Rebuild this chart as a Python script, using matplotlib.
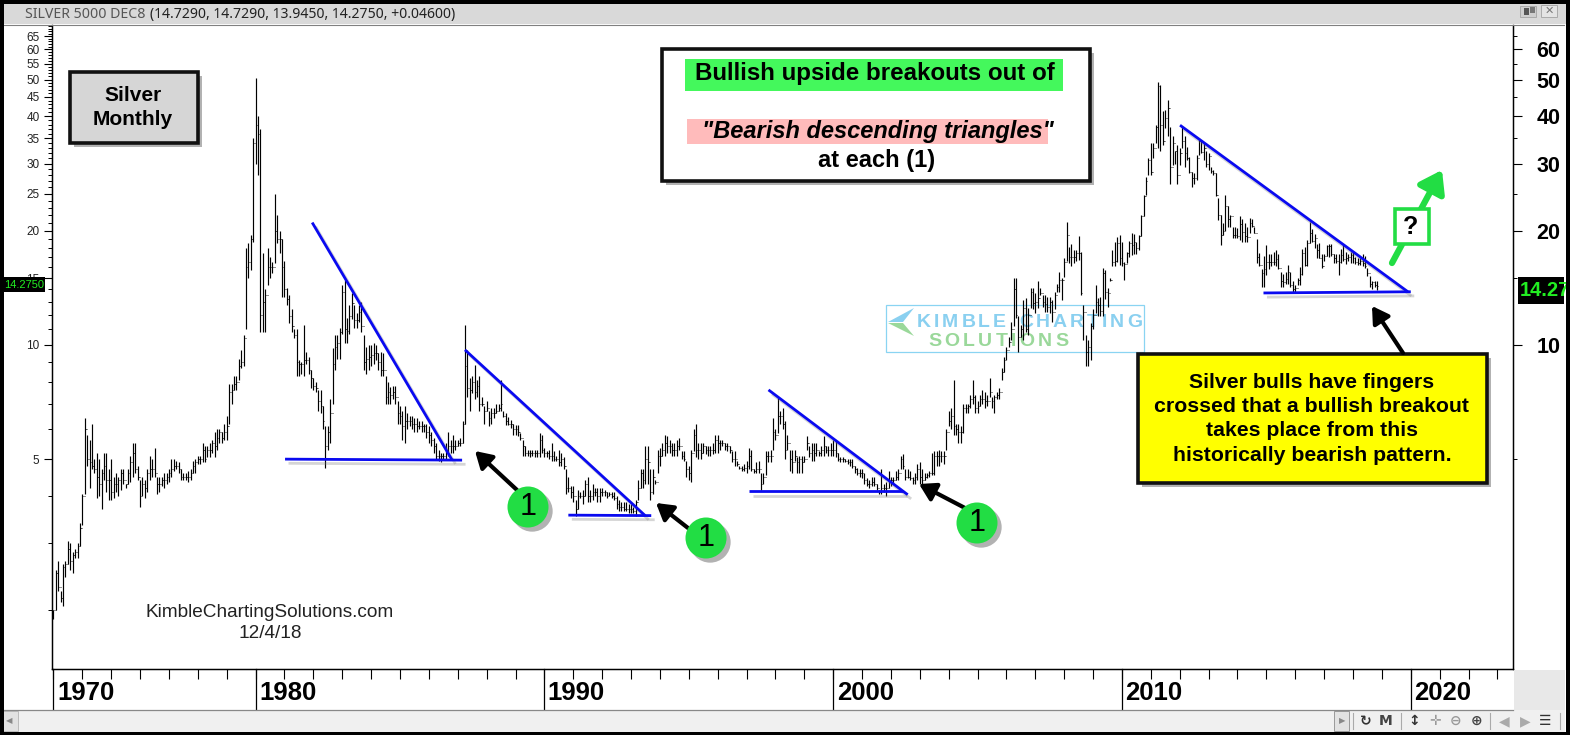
import numpy as np
import matplotlib
matplotlib.use("Agg")
import matplotlib.pyplot as plt
import matplotlib.patches as mp
import matplotlib.patheffects as pe
from matplotlib.transforms import blended_transform_factory

plt.rcParams['font.family'] = ['Liberation Sans', 'DejaVu Sans']

# monthly bars, Jan 1973 to Nov 2018, one row per year
high = [
 2.0,2.55,2.7,2.25,2.65,2.7,3.05,3.0,2.85,2.9,3.0,3.4,
 4.05,6.4,5.8,5.6,6.2,5.0,5.2,5.0,4.7,5.2,5.2,4.7,
 5.0,4.5,4.6,4.5,4.7,4.7,4.3,4.7,5.1,5.5,5.5,4.8,
 4.4,4.5,4.4,4.7,5.1,5.0,5.35,4.5,4.5,4.5,4.6,4.6,
 4.7,5.0,5.0,4.95,4.9,4.7,4.6,4.6,4.65,4.7,4.95,5.0,
 5.1,5.1,5.5,5.4,5.4,5.5,5.6,5.9,6.0,6.0,5.9,6.2,
 6.5,7.9,7.9,8.3,8.3,9.2,9.7,10.6,18.0,18.5,19.5,35.0,
 50.5,40.0,37.0,17.5,14.0,18.0,17.0,16.5,25.0,22.0,20.0,19.0,
 16.6,14.1,13.5,12.4,11.0,11.0,9.1,9.0,11.3,9.6,9.3,8.6,
 8.2,8.0,7.6,7.6,6.9,6.1,6.1,7.2,9.8,10.6,10.6,11.1,
 14.4,14.8,11.8,12.7,13.7,12.7,12.1,12.7,13.0,10.6,9.9,10.0,
 10.0,10.1,10.0,9.5,9.6,9.5,8.3,8.0,7.75,7.8,7.8,7.1,
 6.9,6.7,6.9,6.6,6.5,6.5,6.4,6.4,6.3,6.3,6.2,6.2,
 6.1,5.9,5.7,5.5,5.3,5.2,5.2,5.5,5.9,5.6,5.8,5.6,
 5.6,5.7,6.3,11.3,9.7,8.2,8.3,8.85,8.1,8.3,7.3,6.9,
 7.1,6.7,6.8,6.8,7.0,7.0,8.1,6.7,6.6,6.45,6.35,6.2,
 6.15,6.15,5.85,5.6,5.4,5.3,5.3,5.3,5.3,5.3,5.85,5.8,
 5.35,5.25,5.3,5.5,5.25,5.1,5.3,5.2,5.05,4.7,4.5,4.25,
 4.25,3.9,4.15,4.1,4.15,4.4,4.5,4.15,4.3,4.2,4.2,4.2,
 4.2,4.15,4.1,4.1,4.1,4.1,4.0,3.9,3.85,3.85,3.85,3.8,
 3.8,3.75,3.9,4.4,4.7,4.7,5.4,5.4,4.7,4.7,4.4,5.3,
 5.35,5.5,5.8,5.75,5.6,5.5,5.5,5.6,5.7,5.25,5.25,4.95,
 4.8,5.3,6.0,6.2,5.5,5.5,5.5,5.4,5.4,5.4,5.5,5.8,
 5.8,5.6,5.6,5.5,5.5,5.4,5.25,5.25,4.95,4.8,4.8,4.85,
 4.95,5.35,5.3,4.7,4.9,4.95,4.6,4.6,5.25,5.25,5.3,6.4,
 6.0,7.3,6.7,6.8,6.3,5.8,5.3,5.3,5.3,5.05,5.1,5.1,
 5.1,5.75,5.4,5.5,5.5,5.5,5.25,5.4,5.75,5.4,5.4,5.5,
 5.6,5.6,5.2,5.05,5.05,5.0,5.0,5.0,5.0,4.8,4.75,4.7,
 4.7,4.6,4.45,4.4,4.5,4.5,4.3,4.15,4.7,4.3,4.35,4.65,
 4.5,4.5,4.65,4.7,5.1,5.15,4.7,4.7,4.65,4.5,4.6,4.85,
 4.9,4.7,4.6,4.6,4.65,5.2,5.25,5.25,5.3,5.25,5.25,6.0,
 6.7,6.8,8.1,6.2,6.2,6.1,7.0,7.0,7.0,7.4,8.1,7.4,
 7.1,7.4,7.6,7.5,7.4,8.2,7.3,7.4,7.5,7.7,8.7,9.3,
 9.9,10.5,11.5,15.0,15.0,11.9,11.3,13.1,13.3,12.5,14.1,14.1,
 13.7,14.7,14.1,13.5,13.5,13.4,13.4,13.1,13.8,14.5,15.6,15.0,
 16.9,21.1,18.1,18.4,17.8,17.8,19.3,17.6,12.7,10.6,10.3,11.4,
 12.4,14.4,13.3,13.4,15.9,15.7,14.1,15.0,17.8,18.7,19.2,19.5,
 18.7,16.5,17.6,18.8,19.7,19.6,18.7,19.5,22.0,24.8,27.7,31.0,
 34.0,34.0,37.9,49.4,48.4,41.2,41.6,44.2,37.6,35.4,32.5,33.6,
 33.0,37.6,35.6,33.3,31.3,28.6,28.3,31.6,35.0,34.7,34.0,32.5,
 32.0,29.5,28.8,28.3,24.3,22.0,20.9,24.8,23.2,22.0,20.5,20.5,
 20.3,21.8,21.5,20.9,20.5,21.6,21.5,20.5,19.0,17.5,15.8,17.1,
 18.3,17.4,17.4,17.6,17.8,17.3,15.6,15.4,15.6,16.2,15.6,14.7,
 14.4,15.0,16.0,17.9,18.1,18.9,21.1,20.2,19.6,18.4,18.6,17.4,
 17.3,18.3,18.4,18.4,17.4,17.4,17.4,17.9,18.3,17.6,17.4,17.6,
 17.6,17.0,16.9,16.9,17.3,17.1,15.9,15.2,14.7,14.7,14.73,
]
low = [
 1.9,2.0,2.25,2.1,2.05,2.45,2.65,2.55,2.5,2.75,2.75,2.95,
 3.35,4.05,4.8,4.2,4.7,4.6,3.95,4.0,3.7,4.4,4.1,3.9,
 3.9,3.95,4.1,4.0,4.15,4.3,4.2,4.3,4.35,4.5,4.6,4.4,
 3.75,4.0,3.95,4.1,4.4,4.5,4.5,4.05,4.1,4.25,4.2,4.3,
 4.35,4.5,4.65,4.7,4.6,4.4,4.4,4.4,4.35,4.4,4.6,4.6,
 4.85,4.85,4.9,4.9,5.05,5.05,5.2,5.05,5.3,5.5,5.5,5.6,
 5.6,6.2,7.0,7.6,7.6,8.1,8.7,8.8,11.0,15.0,15.7,18.7,
 30.0,28.0,10.8,10.8,10.8,14.4,15.0,15.5,16.4,18.5,17.5,13.4,
 13.4,12.7,11.4,10.8,10.4,8.3,8.3,8.4,8.3,8.9,8.4,7.7,
 7.6,7.5,6.7,6.6,6.0,4.75,5.3,5.5,7.0,8.6,9.2,9.2,
 10.7,10.1,10.1,10.7,11.7,11.1,11.1,11.5,10.8,8.6,8.4,8.6,
 8.8,8.9,9.1,8.6,8.3,8.3,7.0,7.0,7.0,7.2,7.0,6.2,
 6.2,5.6,5.5,6.0,6.1,6.0,5.9,5.9,6.0,5.9,5.9,5.7,
 5.5,5.4,5.2,5.0,4.95,4.9,5.0,5.0,5.1,5.2,5.2,5.3,
 5.4,5.4,5.5,6.2,7.3,6.7,7.45,7.2,7.3,6.7,6.9,6.2,
 6.7,6.1,6.2,6.4,6.6,6.7,6.7,6.45,6.15,6.15,6.05,5.8,
 5.8,5.75,5.6,5.1,5.1,5.1,5.05,5.1,5.05,5.05,5.05,5.2,
 5.05,5.05,5.0,4.95,4.95,4.95,4.8,4.8,4.7,4.05,4.1,3.95,
 3.85,3.55,3.7,3.95,3.8,4.0,3.85,3.85,3.9,4.0,3.85,3.85,
 4.0,4.0,3.95,4.0,3.95,3.9,3.7,3.65,3.65,3.65,3.65,3.6,
 3.6,3.6,3.55,3.9,4.2,4.2,4.3,4.3,3.9,4.05,4.3,4.6,
 4.8,5.1,5.1,5.2,5.2,5.1,5.1,5.1,5.3,5.0,4.95,4.5,
 4.4,4.35,5.25,5.05,5.0,5.0,5.2,5.15,5.1,5.1,5.15,5.2,
 5.2,5.3,5.4,5.3,5.25,5.2,4.9,4.8,4.8,4.7,4.65,4.65,
 4.6,4.7,4.65,4.6,4.6,4.6,4.15,4.3,4.55,4.9,4.9,5.3,
 5.6,5.85,6.2,6.0,5.0,5.3,4.65,4.6,4.95,4.6,4.6,4.6,
 4.9,5.3,5.05,4.95,4.95,5.1,5.1,5.1,5.1,5.2,5.1,5.1,
 5.1,5.05,4.95,4.9,4.9,4.9,4.85,4.8,4.75,4.6,4.55,4.5,
 4.45,4.3,4.25,4.2,4.25,4.25,4.15,4.05,4.05,4.1,4.0,4.2,
 4.25,4.3,4.4,4.4,4.7,4.7,4.4,4.45,4.4,4.3,4.3,4.4,
 4.3,4.3,4.4,4.45,4.5,4.55,4.55,4.8,4.8,4.9,4.85,5.3,
 6.1,6.0,5.8,5.8,5.5,5.5,5.85,6.6,6.6,6.8,7.0,6.6,
 6.6,6.9,7.0,6.8,6.9,7.3,6.8,6.6,7.2,7.2,8.1,8.5,
 9.1,9.9,10.3,11.2,11.75,9.6,10.5,10.3,10.8,10.6,12.5,12.4,
 12.1,12.5,13.5,12.6,12.2,12.2,12.1,11.5,12.4,13.8,13.8,13.1,
 15.1,16.6,16.4,16.1,16.4,16.6,16.7,13.5,10.3,8.8,8.8,9.1,
 11.0,12.1,11.9,11.9,11.9,13.2,12.6,14.7,16.1,16.1,16.5,16.2,
 16.1,14.8,16.4,17.0,17.2,17.3,17.4,17.8,19.4,21.8,24.8,28.0,
 28.0,31.0,34.0,33.0,32.5,33.6,37.2,35.4,26.6,29.8,30.0,26.6,
 29.8,33.0,29.5,30.6,28.3,26.0,26.6,27.2,31.6,32.0,30.6,29.5,
 28.8,28.3,28.0,24.6,21.3,18.3,19.5,20.0,20.5,20.5,19.1,19.1,
 19.1,18.9,18.7,18.7,18.7,19.7,20.4,19.7,16.4,16.1,14.2,14.2,
 15.3,15.8,16.1,16.2,16.1,15.8,14.2,14.2,14.5,14.5,14.2,13.8,
 13.8,14.4,14.4,15.3,16.1,16.1,18.5,18.7,18.0,16.9,16.9,15.9,
 16.6,17.1,17.0,17.1,16.4,16.4,15.3,16.4,16.6,16.3,16.6,16.4,
 16.4,16.3,16.2,16.2,16.1,15.9,15.2,14.2,14.0,14.2,13.945,
]
close = [
 2.0,2.5,2.3,2.15,2.6,2.65,2.9,2.7,2.8,2.85,2.95,3.3,
 4.0,6.0,5.0,4.9,4.8,4.7,4.5,4.3,4.6,4.8,4.4,4.4,
 4.1,4.3,4.3,4.4,4.6,4.4,4.3,4.6,4.9,5.2,4.7,4.5,
 4.0,4.3,4.2,4.6,4.7,4.7,4.6,4.3,4.3,4.4,4.4,4.5,
 4.6,4.7,4.8,4.8,4.7,4.5,4.5,4.5,4.5,4.6,4.8,4.9,
 5.0,5.0,5.3,5.0,5.3,5.3,5.5,5.4,5.7,5.9,5.7,5.9,
 6.1,7.5,7.6,7.9,8.0,8.8,9.0,10.4,16.0,16.5,19.0,34.0,
 38.0,36.0,12.0,13.0,13.5,16.0,16.0,16.0,20.0,19.0,19.0,16.0,
 14.0,13.2,11.9,11.2,10.6,9.0,8.9,8.9,9.1,9.1,8.6,8.2,
 7.8,7.7,7.1,6.9,6.3,5.4,5.9,6.6,8.9,9.9,10.1,10.8,
 13.8,11.0,10.9,11.9,12.9,11.6,11.6,12.2,11.2,9.0,9.2,9.3,
 9.4,9.5,9.5,9.0,8.6,8.6,7.3,7.5,7.4,7.5,7.3,6.6,
 6.5,6.1,6.3,6.3,6.3,6.2,6.2,6.1,6.1,6.1,6.1,5.9,
 5.8,5.6,5.4,5.1,5.1,5.1,5.1,5.3,5.4,5.4,5.4,5.4,
 5.5,5.5,6.2,8.8,7.7,7.6,8.0,7.5,7.8,7.0,7.0,6.7,
 6.8,6.4,6.6,6.6,6.7,6.8,7.0,6.5,6.3,6.2,6.2,6.0,
 6.0,5.9,5.7,5.4,5.2,5.2,5.2,5.2,5.2,5.2,5.6,5.3,
 5.2,5.2,5.1,5.1,5.0,5.0,4.9,5.0,4.8,4.2,4.2,4.1,
 4.0,3.7,4.0,4.0,4.0,4.3,4.0,4.0,4.1,4.1,4.0,4.1,
 4.1,4.1,4.0,4.05,4.0,3.95,3.8,3.75,3.75,3.7,3.7,3.7,
 3.7,3.65,3.85,4.2,4.6,4.4,5.0,4.9,4.1,4.5,4.35,5.1,
 5.1,5.3,5.5,5.4,5.4,5.3,5.3,5.4,5.4,5.1,5.0,4.7,
 4.6,5.2,5.8,5.3,5.3,5.2,5.4,5.3,5.3,5.3,5.3,5.6,
 5.5,5.5,5.5,5.4,5.4,5.3,5.0,5.0,4.85,4.75,4.7,4.75,
 4.8,5.1,4.7,4.65,4.7,4.7,4.3,4.5,5.1,5.1,5.1,5.9,
 5.8,6.5,6.5,6.2,5.3,5.5,5.0,4.9,5.1,4.9,5.0,4.9,
 5.0,5.5,5.2,5.3,5.2,5.3,5.2,5.3,5.4,5.3,5.3,5.3,
 5.3,5.2,5.0,5.0,5.0,4.95,4.9,4.9,4.8,4.7,4.6,4.6,
 4.6,4.4,4.3,4.3,4.35,4.3,4.2,4.1,4.2,4.2,4.2,4.4,
 4.4,4.4,4.5,4.6,5.0,4.8,4.5,4.5,4.45,4.4,4.5,4.7,
 4.5,4.4,4.5,4.55,4.6,4.6,5.1,5.1,5.1,5.1,5.1,5.9,
 6.3,6.5,6.1,6.0,5.9,5.9,6.8,6.8,6.9,7.2,7.3,6.8,
 6.9,7.2,7.2,7.1,7.1,7.5,7.1,7.3,7.4,7.5,8.5,9.1,
 9.7,10.2,11.0,14.0,12.0,10.5,11.0,12.5,11.0,12.0,13.8,12.9,
 13.0,13.3,13.7,13.0,12.8,12.6,13.0,12.2,13.5,14.2,14.8,14.8,
 16.5,19.5,17.0,17.0,17.0,17.5,17.5,13.7,12.2,9.6,9.9,11.2,
 12.0,13.0,12.7,12.3,15.5,13.8,13.7,14.8,16.5,16.6,18.5,16.9,
 16.4,16.3,17.5,18.5,18.3,18.7,18.0,19.3,21.8,24.6,27.0,30.6,
 28.5,33.0,37.5,48.0,38.0,34.5,39.5,42.0,29.5,34.0,32.5,28.0,
 32.0,34.5,32.0,31.0,28.5,27.5,27.5,31.0,34.5,32.3,33.0,30.0,
 31.5,28.7,28.4,24.8,22.0,19.5,20.0,23.2,21.5,21.8,19.5,19.5,
 19.3,20.8,19.8,19.3,19.2,21.0,20.6,19.7,17.0,16.2,15.5,15.8,
 16.5,16.5,16.5,16.5,16.8,15.9,14.7,14.6,14.9,15.6,14.4,14.0,
 14.1,14.8,15.4,17.5,16.2,18.5,19.7,18.8,19.1,17.8,16.9,16.1,
 17.1,18.2,18.2,17.3,16.9,16.6,16.5,17.2,16.8,16.9,17.0,17.2,
 16.9,16.5,16.4,16.6,16.4,16.1,15.5,14.5,14.6,14.4,14.275,
]
first_year = 1973

# triangles: (year, price) of the two ends of each trend line
down_years = [(1981.96, 1986.80), (1987.25, 1993.49), (1997.76, 2002.58), (2012.01, 2019.90)]
down_prices = [(21.0, 4.98), (9.7, 3.55), (7.61, 4.03), (37.9, 13.8)]
flat_years = [(1981.02, 1987.15), (1990.83, 1993.70), (1997.10, 2002.42), (2014.90, 2020.00)]
flat_prices = [(5.0, 4.97), (3.56, 3.55), (4.11, 4.11), (13.7, 13.8)]

left_ticks = [5, 10, 15, 20, 25, 30, 35, 40, 45, 50, 55, 60, 65]
right_ticks = [10, 20, 30, 40, 50, 60]
right_short = [5, 15, 25, 35, 45, 55, 65]
axis_years = [1973, 1980, 1990, 2000, 2010, 2020]
axis_labels = ['1970', '1980', '1990', '2000', '2010', '2020']

W, H = 1570, 735
fig = plt.figure(figsize=(W / 100, H / 100), dpi=100, facecolor='white')


def rect(x0, y0, x1, y1):
    return [x0 / W, 1 - y1 / H, (x1 - x0) / W, (y1 - y0) / H]


bg = fig.add_axes([0, 0, 1, 1], zorder=0)
bg.set_xlim(0, W)
bg.set_ylim(H, 0)
bg.axis('off')

ax = fig.add_axes(rect(52, 25, 1513, 669), zorder=1, facecolor='none')
ax.set_yscale('log')
ax.set_xlim(1972.95, 2023.54)
ax.set_ylim(1.40, 69.6)

top = fig.add_axes([0, 0, 1, 1], zorder=2)
top.set_xlim(0, W)
top.set_ylim(H, 0)
top.axis('off')

# bars
high = np.array(high)
low = np.array(low)
close = np.array(close)
bar_x = first_year + np.arange(len(high)) / 12
opens = np.r_[close[0], close[:-1]]
ax.vlines(bar_x, low, high, color='black', lw=0.85, zorder=3)
ax.hlines(opens, bar_x - 0.03, bar_x, color='black', lw=0.6, zorder=3)
ax.hlines(close, bar_x, bar_x + 0.03, color='black', lw=0.6, zorder=3)

# trend lines
shadow = [pe.SimpleLineShadow(offset=(2.5, -3), shadow_color='#777777', alpha=0.3), pe.Normal()]
for xs, ys in zip(down_years + flat_years, down_prices + flat_prices):
    ax.plot(xs, ys, color='#0a0af0', lw=2.0, zorder=4, path_effects=shadow, solid_capstyle='butt')

# axes
for s in ['top']:
    ax.spines[s].set_visible(False)
for s in ['left', 'right', 'bottom']:
    ax.spines[s].set_linewidth(1.0)
ax.set_yticks(left_ticks)
ax.set_yticklabels([str(t) for t in left_ticks], fontsize=8.5, color='#222222')
minor = [t for t in range(2, 70) if t not in left_ticks]
ax.set_yticks(minor, minor=True)
ax.yaxis.set_minor_formatter(matplotlib.ticker.NullFormatter())
ax.tick_params(axis='y', which='major', length=6, width=0.8, pad=3)
ax.tick_params(axis='y', which='minor', length=3, width=0.7)
ax.set_xticks(np.arange(first_year, 2024))
ax.set_xticklabels([])
ax.tick_params(axis='x', which='major', length=7.2, width=0.8)

trans = blended_transform_factory(ax.transData, ax.transAxes)
for yr, lab in zip(axis_years, axis_labels):
    ax.plot([yr, yr], [0, -40 / 644], transform=trans, color='black', lw=0.9, clip_on=False)
    ax.text(yr + 0.12, -24 / 644, lab, transform=trans, fontsize=18.5, fontweight='bold',
            ha='left', va='center', clip_on=False)

rax = ax.twinx()
rax.set_yscale('log')
rax.set_ylim(ax.get_ylim())
rax.set_zorder(1)
rax.spines['top'].set_visible(False)
rax.set_yticks(right_ticks)
rax.set_yticklabels([str(t) for t in right_ticks], fontsize=15.5, color='black', fontweight='bold')
rax.set_yticks(right_short, minor=True)
rax.yaxis.set_minor_formatter(matplotlib.ticker.NullFormatter())
rax.tick_params(axis='y', which='major', length=6.5, width=0.8, pad=10.5)
rax.tick_params(axis='y', which='minor', length=3, width=0.7)

# window frame
top.add_patch(mp.Rectangle((0, 3), W, 21, fc='#d9d9d9', ec='none'))
top.plot([3, 1564], [24.5, 24.5], color='#808080', lw=0.8)
top.text(25, 14, 'SILVER 5000 DEC8', fontsize=10.2, color='#555555', va='center', family='Noto Sans')
top.text(150, 14, '(14.7290, 14.7290, 13.9450, 14.2750, +0.04600)', fontsize=10.1, color='#222222',
         va='center', family='Noto Sans')
top.add_patch(mp.Rectangle((1520, 6), 16, 11, fc='#cfcfcf', ec='#aaaaaa', lw=0.7))
top.add_patch(mp.Rectangle((1524, 8), 5, 7, fc='#555555', ec='none'))
top.add_patch(mp.Rectangle((1530, 7), 5, 6, fc='#777777', ec='none'))
top.add_patch(mp.Rectangle((1541, 5), 16, 12, fc='#e4e4e4', ec='#aaaaaa', lw=0.7))
top.text(1549, 11, '\u2715', fontsize=8, color='#777777', ha='center', va='center', family='DejaVu Sans')

top.plot([3, 1513], [709.5, 709.5], color='#888888', lw=0.9)
top.add_patch(mp.Rectangle((1514, 670), 51, 40, fc='#e8e8e8', ec='none'))
top.add_patch(mp.Rectangle((3, 710), 1562, 22, fc='#f0f0f0', ec='none'))
top.add_patch(mp.Rectangle((3, 711), 15, 20, fc='#e2e2e2', ec='#bbbbbb', lw=0.7))
top.text(9, 721, '\u25c0', fontsize=6, color='#888888', ha='center', va='center', family='DejaVu Sans')
top.add_patch(mp.Rectangle((1334, 711), 15, 20, fc='#e2e2e2', ec='#999999', lw=0.7))
top.text(1342, 721, '\u25b6', fontsize=6, color='#888888', ha='center', va='center', family='DejaVu Sans')
tool_x = [1366, 1386, 1414, 1435, 1456, 1477, 1504, 1525, 1545]
tool_s = ['\u21bb', 'M', '\u2195', '\u271b', '\u2296', '\u2295', '\u25c0', '\u25b6', '\u2630']
tool_c = ['#333333', '#444444', '#333333', '#999999', '#999999', '#444444', '#aaaaaa', '#aaaaaa', '#333333']
for x, s, c in zip(tool_x, tool_s, tool_c):
    top.text(x, 721, s, fontsize=10, color=c, ha='center', va='center', fontweight='bold', family='DejaVu Sans')
for x in [1353, 1401, 1490, 1560]:
    top.plot([x, x], [713, 729], color='#aaaaaa', lw=0.8)

for r in [(0, 0, 3.5, H), (0, 0, W, 3.5), (0, H - 3.5, W, 3.5), (W - 4, 0, 4, H)]:
    top.add_patch(mp.Rectangle(r[:2], r[2], r[3], fc='black', ec='none', zorder=9))

# price badges
top.add_patch(mp.Rectangle((4, 277), 41, 15, fc='black', ec='none'))
top.text(24.5, 285, '14.2750', color='#22ee22', fontsize=8, ha='center', va='center')
badge = mp.Rectangle((1518, 277), 46, 27, fc='black', ec='none')
top.add_patch(badge)
t = top.text(1520, 290.5, '14.2750', color='#22ee22', fontsize=14.5, fontweight='bold', ha='left', va='center')
t.set_clip_path(badge)

# logo, behind the bars
renderer = fig.canvas.get_renderer()


def spaced(s, x0, x1, y, color):
    # letters pushed apart so the word fills x0..x1
    parts = [bg.text(0, y, ch, color=color, fontsize=14, fontweight='bold', va='center') for ch in s]
    widths = [7 if ch == ' ' else p.get_window_extent(renderer).width for ch, p in zip(s, parts)]
    gap = (x1 - x0 - sum(widths)) / (len(s) - 1)
    x = x0
    for p, w in zip(parts, widths):
        p.set_x(x)
        x += w + gap


bg.add_patch(mp.Rectangle((885.5, 304.5), 258, 47.5, fc='none', ec='#8ad4f2', lw=0.9))
bg.add_patch(mp.Polygon([(888, 322), (914, 308), (903, 322)], fc='#8ad0f0', ec='none'))
bg.add_patch(mp.Polygon([(888, 323), (914, 336), (903, 323)], fc='#9ad89a', ec='none'))
spaced('KIMBLE CHARTING', 917, 1142, 322, '#8ad0f0')
spaced('SOLUTIONS', 928, 1068, 341, '#9ad89a')

# boxes
box_shadow = [pe.SimplePatchShadow(offset=(3, -3), shadow_rgbFace='#555555', alpha=0.45), pe.Normal()]


def box(x0, y0, x1, y1, fc, ec='#111111', lw=2.6):
    p = mp.Rectangle((x0, y0), x1 - x0, y1 - y0, fc=fc, ec=ec, lw=lw, path_effects=box_shadow)
    top.add_patch(p)


box(70, 72, 198, 143, '#d6d6d6')
top.text(133, 95, 'Silver', fontsize=15, fontweight='bold', ha='center', va='center')
top.text(133, 119, 'Monthly', fontsize=15, fontweight='bold', ha='center', va='center')

box(661.5, 49, 1090, 181, 'white')
top.add_patch(mp.Rectangle((685, 59), 378, 32, fc='#44f85c', ec='none'))
top.add_patch(mp.Rectangle((687, 119), 361, 25, fc='#ffbbbb', ec='none'))
top.text(875, 73, 'Bullish upside breakouts out of', fontsize=17.4, fontweight='bold', ha='center', va='center')
top.text(878, 131, '"Bearish descending triangles"', fontsize=17, fontweight='bold', style='italic',
         ha='center', va='center')
top.text(877, 160, 'at each (1)', fontsize=17, fontweight='bold', ha='center', va='center')

box(1138, 354, 1487, 483, '#ffff00')
yellow_lines = ['Silver bulls have fingers', 'crossed that a bullish breakout',
                'takes place from this', 'historically bearish pattern.']
for yy, line in zip([382, 406, 430, 455], yellow_lines):
    top.text(1312, yy, line, fontsize=15.3, fontweight='bold', ha='center', va='center')

top.text(270, 612.5, 'KimbleChartingSolutions.com', fontsize=13.7, color='#222222', ha='center', va='center')
top.text(270, 634, '12/4/18', fontsize=13.7, color='#222222', ha='center', va='center')

# arrows and numbered circles
arrows = [((517, 490), (475, 451)), ((688, 528), (656, 503)), ((965, 508), (919, 484)), ((1403, 353), (1372, 306))]
for a, b in arrows:
    top.add_patch(mp.FancyArrowPatch(a, b, arrowstyle='-|>,head_length=0.75,head_width=0.45', mutation_scale=13,
                                     lw=3, color='black', shrinkA=0, shrinkB=0, zorder=3))
top.add_patch(mp.FancyArrowPatch((1392, 263), (1442, 170), arrowstyle='-|>,head_length=0.8,head_width=0.55',
                                 mutation_scale=16, lw=4.5, color='#22dd44', shrinkA=0, shrinkB=0, zorder=3))
top.add_patch(mp.Rectangle((1395, 209), 33.5, 34.5, fc='white', ec='#22dd44', lw=2.6, zorder=4))
top.text(1411, 227, '?', fontsize=18, fontweight='bold', ha='center', va='center', zorder=5)

for cx, cy in [(528, 507), (706, 538), (977, 523)]:
    top.add_patch(mp.Circle((cx, cy), 20.5, fc='#22dd44', ec='none', zorder=4, path_effects=box_shadow))
    top.text(cx, cy, '1', fontsize=22, ha='center', va='center', zorder=5)

fig.savefig('out.png', dpi=100)
